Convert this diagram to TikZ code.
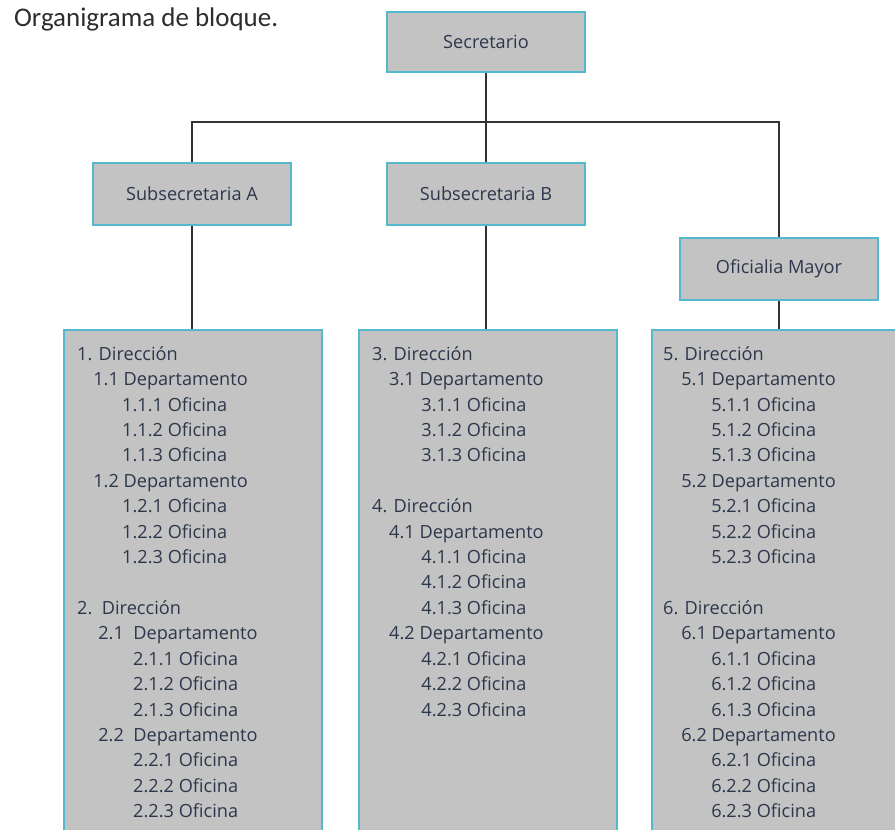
\documentclass[tikz,border=0pt]{standalone}
\usepackage{fontspec}
\usetikzlibrary{positioning}
\usepackage{xcolor}
\newfontfamily\titlefont{Carlito}
\newfontfamily\boxfont{Open Sans}
\definecolor{boxgray}{RGB}{195, 195, 195}
\definecolor{boxedge}{RGB}{85, 185, 205}
\definecolor{textslate}{RGB}{45, 55, 75}
\definecolor{titlegray}{RGB}{45, 45, 45}
\definecolor{linedark}{RGB}{50, 50, 50}

\begin{document}
\begin{tikzpicture}[
    x=0.03cm, y=-0.03cm,
    unit/.style={rectangle, draw=boxedge, fill=boxgray, line width=1.8pt, minimum width=5.94cm, minimum height=1.86cm, font=\boxfont\fontsize{15.5}{18}\selectfont, text=textslate},
    block/.style={rectangle, draw=boxedge, fill=boxgray, line width=1.8pt, minimum width=7.74cm, minimum height=15.9cm},
    list/.style={anchor=north west, inner sep=0pt, align=left, font=\boxfont\fontsize{15.5}{21.7}\selectfont, text=textslate},
    link/.style={draw=linedark, line width=1.2pt},
]

\useasboundingbox (0,0) rectangle (895,829);
\clip (0,0) rectangle (895,829);
\fill[white] (0,0) rectangle (895,829);

% Title
\node[anchor=base west, font=\titlefont\fontsize{23}{27}\selectfont, text=titlegray] (title) at (10,26) {Organigrama de bloque.};

% Top levels
\node[unit, minimum height=1.8cm] (secretario) at (486,42) {Secretario};
\node[unit] (subA) at (192,194) {Subsecretaria A};
\node[unit] (subB) at (486,194) {Subsecretaria B};
\node[unit] (oficialia) at (779,269) {Oficialia Mayor};

% Blocks
\node[block] (bloqueA) at (193,595) {};
\node[block] (bloqueB) at (488,595) {};
\node[block] (bloqueC) at (781,595) {};

% Lists
\node[list] (listaA) at (77,346) {1. Dirección\\
\hspace*{13.7pt}1.1 Departamento\\
\hspace*{38.4pt}1.1.1 Oficina\\
\hspace*{38.4pt}1.1.2 Oficina\\
\hspace*{38.4pt}1.1.3 Oficina\\
\hspace*{13.7pt}1.2 Departamento\\
\hspace*{38.4pt}1.2.1 Oficina\\
\hspace*{38.4pt}1.2.2 Oficina\\
\hspace*{38.4pt}1.2.3 Oficina\\[21.7pt]
2.\ \ Dirección\\
\hspace*{18pt}2.1\ \ Departamento\\
\hspace*{47.8pt}2.1.1 Oficina\\
\hspace*{47.8pt}2.1.2 Oficina\\
\hspace*{47.8pt}2.1.3 Oficina\\
\hspace*{18pt}2.2\ \ Departamento\\
\hspace*{47.8pt}2.2.1 Oficina\\
\hspace*{47.8pt}2.2.2 Oficina\\
\hspace*{47.8pt}2.2.3 Oficina};

\node[list] (listaB) at (372,346) {3. Dirección\\
\hspace*{14.5pt}3.1 Departamento\\
\hspace*{42pt}3.1.1 Oficina\\
\hspace*{42pt}3.1.2 Oficina\\
\hspace*{42pt}3.1.3 Oficina\\[21.7pt]
4. Dirección\\
\hspace*{14.5pt}4.1 Departamento\\
\hspace*{42pt}4.1.1 Oficina\\
\hspace*{42pt}4.1.2 Oficina\\
\hspace*{42pt}4.1.3 Oficina\\
\hspace*{14.5pt}4.2 Departamento\\
\hspace*{42pt}4.2.1 Oficina\\
\hspace*{42pt}4.2.2 Oficina\\
\hspace*{42pt}4.2.3 Oficina};

\node[list] (listaC) at (663,346) {5. Dirección\\
\hspace*{15.4pt}5.1 Departamento\\
\hspace*{41pt}5.1.1 Oficina\\
\hspace*{41pt}5.1.2 Oficina\\
\hspace*{41pt}5.1.3 Oficina\\
\hspace*{15.4pt}5.2 Departamento\\
\hspace*{41pt}5.2.1 Oficina\\
\hspace*{41pt}5.2.2 Oficina\\
\hspace*{41pt}5.2.3 Oficina\\[21.7pt]
6. Dirección\\
\hspace*{15.4pt}6.1 Departamento\\
\hspace*{41pt}6.1.1 Oficina\\
\hspace*{41pt}6.1.2 Oficina\\
\hspace*{41pt}6.1.3 Oficina\\
\hspace*{15.4pt}6.2 Departamento\\
\hspace*{41pt}6.2.1 Oficina\\
\hspace*{41pt}6.2.2 Oficina\\
\hspace*{41pt}6.2.3 Oficina};

% Connectors
\coordinate (bus) at (486,122);
\draw[link] (secretario) -- (subB);
\draw[link] (subA.north) |- (bus) -| (oficialia.north);
\draw[link] (subA.south) -- (subA.south |- bloqueA.north);
\draw[link] (subB.south) -- (subB.south |- bloqueB.north);
\draw[link] (oficialia.south) -- (oficialia.south |- bloqueC.north);

\end{tikzpicture}
\end{document}
